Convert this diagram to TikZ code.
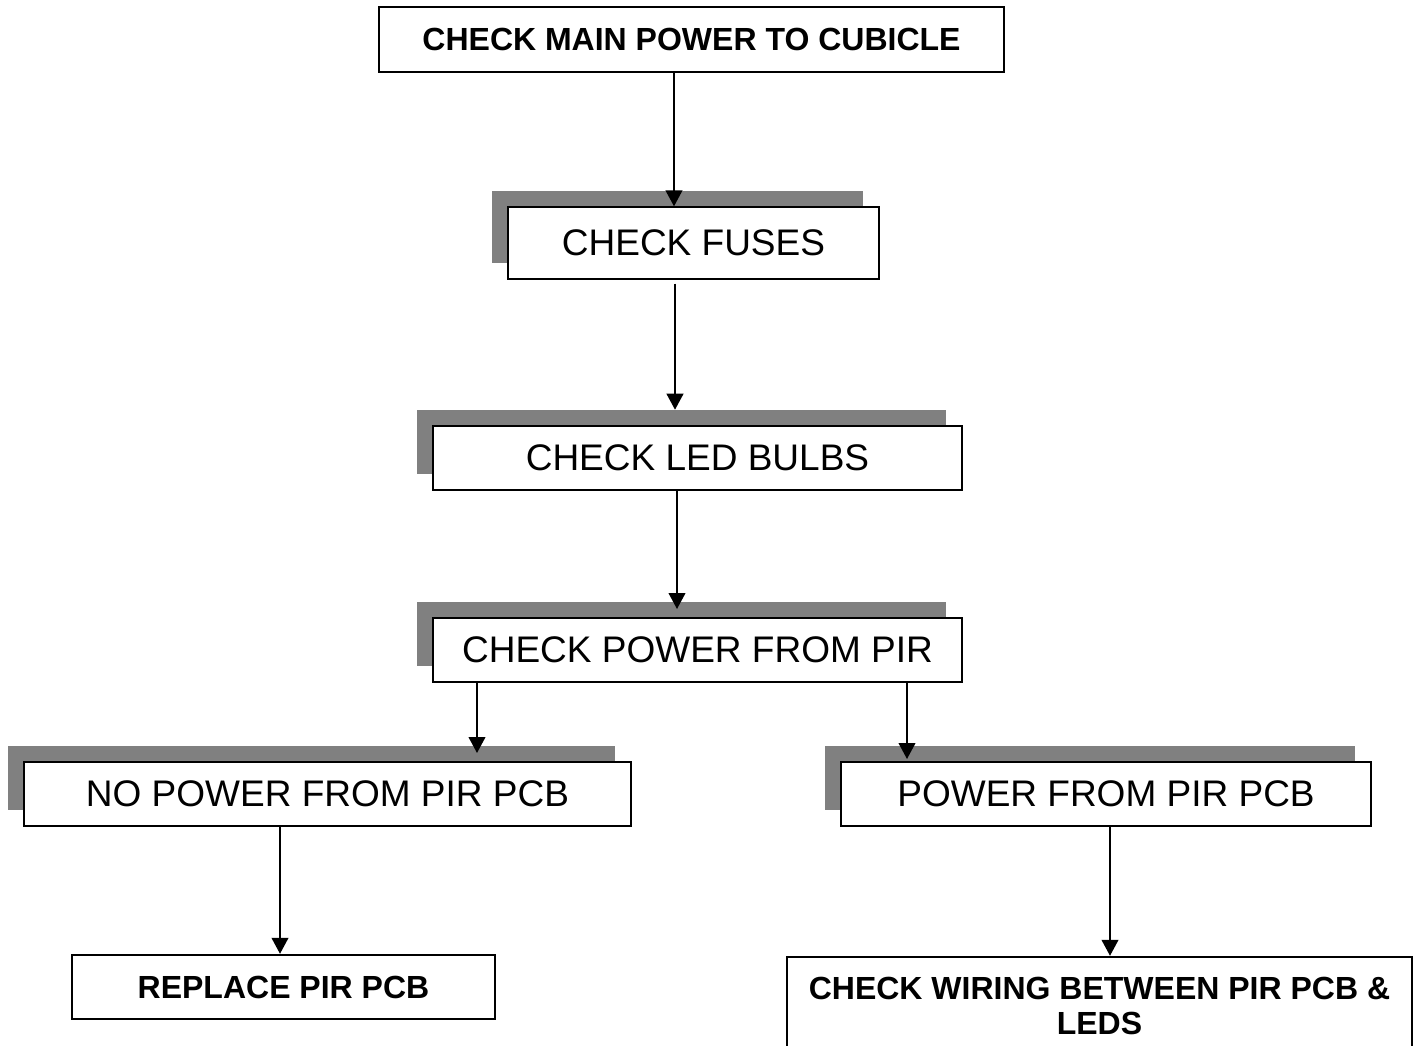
\documentclass[tikz,border=0pt]{standalone}
\usepackage{fontspec}
\setmainfont{Liberation Sans}
\usetikzlibrary{arrows.meta}
\definecolor{shadowgray}{RGB}{128,128,128}
\tikzset{
  box/.style={draw=black, fill=white, rectangle, inner sep=0pt, align=center,
    line width=1.5pt, font=\fontsize{27.75pt}{33pt}\selectfont},
  thinbox/.style={box, line width=1pt},
  boldbox/.style={box, line width=1.8pt, font=\fontsize{24pt}{26.25pt}\selectfont\bfseries},
  shadowbox/.style={fill=shadowgray, draw=none, rectangle, inner sep=0pt},
  arr/.style={line width=1.5pt, -{Triangle[width=12.5pt,length=12pt]}},
}
\begin{document}
\begin{tikzpicture}[x=0.75pt,y=-0.75pt]
\useasboundingbox (0,0) rectangle (1421,1046);
\clip (0,0) rectangle (1421,1046);
\fill[white] (0,0) rectangle (1421,1046);

% shadows
\node[shadowbox, minimum width=278.25pt, minimum height=54pt] (s2) at (677.5,227) {};
\node[shadowbox, minimum width=396.75pt, minimum height=48pt] (s3) at (681.5,442) {};
\node[shadowbox, minimum width=396.75pt, minimum height=48pt] (s4) at (681.5,634) {};
\node[shadowbox, minimum width=455.25pt, minimum height=48pt] (s5) at (311.5,778) {};
\node[shadowbox, minimum width=397.5pt, minimum height=48pt] (s6) at (1090,778) {};

% boxes
\node[boldbox, minimum width=468.75pt, minimum height=48.75pt] (b1) at (691.5,39.5) {CHECK MAIN POWER TO CUBICLE};
\node[thinbox, minimum width=278.25pt, minimum height=54pt] (b2) at (693.5,243) {CHECK FUSES};
\node[box, minimum width=396.75pt, minimum height=48pt] (b3) at (697.5,458) {CHECK LED BULBS};
\node[box, minimum width=396.75pt, minimum height=48pt] (b4) at (697.5,650) {CHECK POWER FROM PIR};
\node[box, minimum width=455.25pt, minimum height=48pt] (b5) at (327.5,794) {NO POWER FROM PIR PCB};
\node[box, minimum width=397.5pt, minimum height=48pt] (b6) at (1106,794) {POWER FROM PIR PCB};
\node[boldbox, minimum width=317.25pt, minimum height=48pt] (b7) at (283.5,987) {REPLACE PIR PCB};
\node[boldbox, minimum width=468.75pt, minimum height=73.5pt] (b8) at (1099.5,1006) {CHECK WIRING BETWEEN PIR PCB \&\\LEDS};

% connector x positions
\coordinate (c1) at (674,0);
\coordinate (c2) at (675,0);
\coordinate (c3) at (677,0);
\coordinate (c4) at (477,0);
\coordinate (c5) at (907,0);
\coordinate (c6) at (280,0);
\coordinate (c7) at (1110,0);

% connectors
\draw[arr] (b1.south -| c1) -- (b2.north -| c1);
\draw[arr, shorten <=3pt] (b2.south -| c2) -- (s3.north -| c2);
\draw[arr, shorten >=6pt] (b3.south -| c3) -- (b4.north -| c3);
\draw[arr, shorten >=6pt] (b4.south -| c4) -- (b5.north -| c4);
\draw[arr, shorten >=1.5pt] (b4.south -| c5) -- (b6.north -| c5);
\draw[arr] (b5.south -| c6) -- (b7.north -| c6);
\draw[arr] (b6.south -| c7) -- (b8.north -| c7);
\end{tikzpicture}
\end{document}
